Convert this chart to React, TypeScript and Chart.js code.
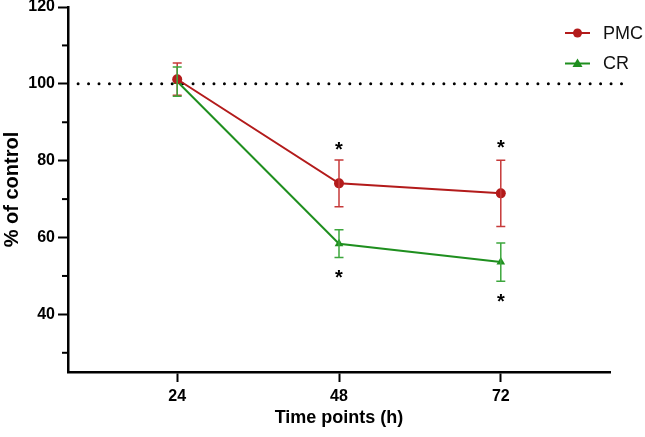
import React, { useEffect, useRef } from "react";
import { Chart, registerables } from "chart.js";

Chart.register(...registerables);

const timePoints = [24, 48, 72];
const pmcMean = [101.2, 74.1, 71.5];
const pmcErr = [4.2, 6.1, 8.6];
const crMean = [100.6, 58.4, 53.6];
const crErr = [3.8, 3.6, 5.0];
const starAboveX = [48, 72];
const starAboveY = [83.4, 83.7];
const starBelowX = [48, 72];
const starBelowY = [50.0, 43.8];
const yTickValues = [30, 40, 50, 60, 70, 80, 90, 100, 110, 120];
const xTickValues = [24, 48, 72];
const refLineX = [9.3, 90.1];
const refLineY = [100, 100];

const RED = "#B31B1B";
const RED_ERR = "#C63A3A";
const GREEN = "#1F8F1F";
const GREEN_ERR = "#3DA63D";
const FONT = "'Liberation Sans', Arial, sans-serif";

const overlayPlugin = {
  id: "overlay",
  afterDatasetsDraw(chart: any) {
    const ctx = chart.ctx;
    const xs = chart.scales.x;
    const ys = chart.scales.y;
    ctx.save();
    // minor y ticks
    ctx.strokeStyle = "#000";
    ctx.lineWidth = 2;
    yTickValues.forEach((v) => {
      if (v % 20 !== 0) {
        const py = ys.getPixelForValue(v);
        ctx.beginPath();
        ctx.moveTo(chart.chartArea.left - 6, py);
        ctx.lineTo(chart.chartArea.left, py);
        ctx.stroke();
      }
    });
    // error bars
    const drawErr = (means: number[], errs: number[], color: string) => {
      ctx.strokeStyle = color;
      ctx.lineWidth = 1.5;
      means.forEach((m, i) => {
        const px = xs.getPixelForValue(timePoints[i]);
        const top = ys.getPixelForValue(m + errs[i]);
        const bot = ys.getPixelForValue(m - errs[i]);
        ctx.beginPath();
        ctx.moveTo(px, top);
        ctx.lineTo(px, bot);
        ctx.moveTo(px - 4.5, top);
        ctx.lineTo(px + 4.5, top);
        ctx.moveTo(px - 4.5, bot);
        ctx.lineTo(px + 4.5, bot);
        ctx.stroke();
      });
    };
    drawErr(pmcMean, pmcErr, RED_ERR);
    drawErr(crMean, crErr, GREEN_ERR);
    // stars
    ctx.fillStyle = "#000";
    ctx.font = `bold 20px ${FONT}`;
    ctx.textAlign = "center";
    ctx.textBaseline = "alphabetic";
    const drawStar = (xv: number, yv: number) => {
      ctx.fillText("*", xs.getPixelForValue(xv), ys.getPixelForValue(yv) + 8);
    };
    starAboveX.forEach((x, i) => drawStar(x, starAboveY[i]));
    starBelowX.forEach((x, i) => drawStar(x, starBelowY[i]));
    // legend
    const items = [
      { label: "PMC", color: RED, style: "circle", y: 33 },
      { label: "CR", color: GREEN, style: "triangle", y: 63.5 },
    ];
    items.forEach((it) => {
      ctx.strokeStyle = it.color;
      ctx.fillStyle = it.color;
      ctx.lineWidth = 2;
      ctx.beginPath();
      ctx.moveTo(565, it.y);
      ctx.lineTo(590, it.y);
      ctx.stroke();
      ctx.beginPath();
      if (it.style === "circle") {
        ctx.arc(577.5, it.y, 4.5, 0, Math.PI * 2);
      } else {
        ctx.moveTo(577.5, it.y - 5);
        ctx.lineTo(582.5, it.y + 3.5);
        ctx.lineTo(572.5, it.y + 3.5);
        ctx.closePath();
      }
      ctx.fill();
      ctx.fillStyle = "#111";
      ctx.font = `18px ${FONT}`;
      ctx.textAlign = "left";
      ctx.textBaseline = "middle";
      ctx.fillText(it.label, 603, it.y + 1);
    });
    ctx.restore();
  },
};

export default function App() {
  const ref = useRef<HTMLCanvasElement>(null);
  useEffect(() => {
    document.body.style.margin = "0";
    const canvas = ref.current!;
    const chart = new Chart(canvas, {
      type: "line",
      data: {
        datasets: [
          {
            label: "ref",
            data: refLineX.map((x, i) => ({ x, y: refLineY[i] })),
            borderColor: "#000",
            borderWidth: 3,
            borderDash: [0, 10.45],
            borderCapStyle: "round",
            pointRadius: 0,
            clip: false,
            order: 3,
          } as any,
          {
            label: "PMC",
            data: timePoints.map((x, i) => ({ x, y: pmcMean[i] })),
            borderColor: RED,
            backgroundColor: RED,
            borderWidth: 2,
            pointStyle: "circle",
            pointRadius: 5,
            pointBorderWidth: 0,
            order: 1,
          },
          {
            label: "CR",
            data: timePoints.map((x, i) => ({ x, y: crMean[i] })),
            borderColor: GREEN,
            backgroundColor: GREEN,
            borderWidth: 2,
            pointStyle: "triangle",
            pointRadius: 5,
            pointBorderWidth: 0,
            order: 2,
          },
        ],
      },
      options: {
        responsive: false,
        animation: false,
        events: [],
        layout: { padding: { top: 7, right: 35, left: 0, bottom: 0 } },
        plugins: { legend: { display: false }, tooltip: { enabled: false } },
        scales: {
          x: {
            type: "linear",
            min: 7.8,
            max: 88.2,
            afterBuildTicks: (s: any) => {
              s.ticks = xTickValues.map((v) => ({ value: v }));
            },
            afterFit: (s: any) => {
              s.height = 65;
              s.paddingLeft = 0;
              s.paddingRight = 0;
            },
            grid: {
              display: true,
              drawOnChartArea: false,
              drawTicks: true,
              tickLength: 10,
              tickWidth: 2,
              tickColor: "#000",
            },
            border: { display: true, color: "#000", width: 2.5 },
            ticks: {
              color: "#000",
              font: { family: FONT, size: 16, weight: "bold" },
              padding: 5,
              maxRotation: 0,
              callback: (v: any) => String(v),
            },
            title: {
              display: true,
              text: "Time points (h)",
              color: "#000",
              font: { family: FONT, size: 18, weight: "bold" },
              padding: { top: 0, bottom: 8 },
            },
          },
          y: {
            type: "linear",
            min: 25,
            max: 120,
            afterBuildTicks: (s: any) => {
              s.ticks = yTickValues.map((v) => ({ value: v }));
            },
            afterFit: (s: any) => {
              s.width = 68;
              s.paddingTop = 0;
              s.paddingBottom = 0;
            },
            grid: {
              display: true,
              drawOnChartArea: false,
              drawTicks: true,
              tickLength: 10,
              tickWidth: 2,
              tickColor: (c: any) =>
                c.tick && c.tick.value % 20 === 0 ? "#000" : "rgba(0,0,0,0)",
            },
            border: { display: true, color: "#000", width: 2.5 },
            ticks: {
              color: "#000",
              font: { family: FONT, size: 16, weight: "bold" },
              padding: 3,
              callback: (v: any) => (Number(v) % 20 === 0 ? String(v) : ""),
            },
            title: {
              display: true,
              text: "% of control",
              color: "#000",
              font: { family: FONT, size: 20, weight: "bold" },
              padding: { top: 0, bottom: 0 },
            },
          },
        },
      },
      plugins: [overlayPlugin],
    });
    return () => chart.destroy();
  }, []);
  return (
    <div style={{ position: "absolute", left: 0, top: 0, width: 645, height: 437 }}>
      <canvas ref={ref} width={645} height={437} style={{ width: 645, height: 437 }} />
    </div>
  );
}
